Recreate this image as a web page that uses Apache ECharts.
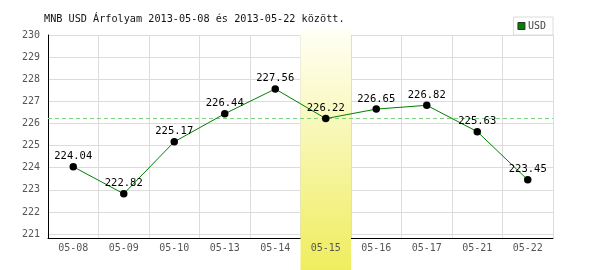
<!DOCTYPE html>
<html>
<head>
<meta charset="utf-8">
<script src="https://cdn.jsdelivr.net/npm/echarts@6/dist/echarts.min.js"></script>
<style>html,body{margin:0;padding:0;background:#fff}#c{width:600px;height:270px}</style>
</head>
<body>
<div id="c"></div>
<script>
const titleText = 'MNB USD Árfolyam 2013-05-08 és 2013-05-22 között.';
const seriesName = 'USD';
const categories = ['05-08','05-09','05-10','05-13','05-14','05-15','05-16','05-17','05-21','05-22'];
const values = [224.04, 222.82, 225.17, 226.44, 227.56, 226.22, 226.65, 226.82, 225.63, 223.45];
const highlightDay = '05-15';
const yMin = 220.82, yMax = 230;

const FONT = 'DejaVu Sans Mono';
const hiIndex = categories.indexOf(highlightDay);
const refValue = values[hiIndex];
const bandData = categories.map(c => c === highlightDay ? 1 : null);

const chart = echarts.init(document.getElementById('c'), null, {renderer: 'canvas'});
chart.setOption({
  animation: false,
  backgroundColor: '#fff',
  title: {
    text: titleText, left: 44, top: 14, padding: 0,
    textStyle: {fontFamily: FONT, fontSize: 10.2, fontWeight: 'normal', color: '#111'}
  },
  legend: {
    data: [{name: seriesName, icon: 'rect', itemStyle: {color: '#0a7a0a', borderColor: '#1d3d1d', borderWidth: 1}}],
    right: 47, top: 17, orient: 'vertical',
    padding: [4, 7, 4, 4], itemWidth: 7, itemHeight: 7,
    borderColor: '#dcdcdc', borderWidth: 1,
    textStyle: {fontFamily: FONT, fontSize: 10, color: '#444', padding: [0,0,0,-2]}
  },
  grid: [
    {left: 48, right: 47, top: 35, bottom: 32},
    {left: 48, right: 47, top: 29, bottom: 0}
  ],
  xAxis: [
    {type: 'category', data: categories, gridIndex: 0, position: 'bottom', boundaryGap: true, z: 0,
     axisLine: {show: true, lineStyle: {color: '#000', width: 1}},
     axisTick: {show: false}, axisLabel: {show: false},
     splitLine: {show: true, lineStyle: {color: '#dcdcdc', width: 1}}},
    {type: 'category', data: categories, gridIndex: 0, position: 'bottom', boundaryGap: true, z: 10,
     axisLine: {show: false}, axisTick: {show: false}, splitLine: {show: false},
     axisLabel: {show: true, margin: 5, fontFamily: FONT, fontSize: 10, color: '#555'}},
    {type: 'category', data: categories, gridIndex: 1, show: false, boundaryGap: true}
  ],
  yAxis: [
    {type: 'value', gridIndex: 0, min: yMin, max: yMax, minInterval: 1, maxInterval: 1, z: 0,
     axisLine: {show: true, lineStyle: {color: '#000', width: 1}},
     axisTick: {show: false},
     axisLabel: {margin: 8, fontFamily: FONT, fontSize: 10, color: '#555',
       formatter: v => (Math.abs(v - Math.round(v)) < 1e-6 ? String(Math.round(v)) : '')},
     splitLine: {show: true, lineStyle: {color: '#dcdcdc', width: 1}}},
    {type: 'value', gridIndex: 1, min: 0, max: 1, show: false}
  ],
  series: [
    {name: 'ref', type: 'line', xAxisIndex: 0, yAxisIndex: 0, data: [], z: 1, silent: true,
     markLine: {symbol: 'none', silent: true, label: {show: false},
       lineStyle: {color: '#7fd07f', type: [4, 3], width: 1},
       data: [{yAxis: refValue}]}},
    {name: 'band', type: 'bar', xAxisIndex: 2, yAxisIndex: 1, data: bandData, barWidth: '100%', z: 2, silent: true,
     itemStyle: {color: new echarts.graphic.LinearGradient(0, 0, 0, 1, [
       {offset: 0, color: '#fffff6'}, {offset: 1, color: '#efed5e'}])}},
    {name: seriesName, type: 'line', xAxisIndex: 0, yAxisIndex: 0, data: values, z: 5,
     symbol: 'circle', symbolSize: 7.5,
     lineStyle: {color: '#008000', width: 1},
     itemStyle: {color: '#000'},
     label: {show: true, position: 'top', distance: 1, fontFamily: FONT, fontSize: 10.5, color: '#000',
       formatter: p => p.value.toFixed(2)}}
  ]
});
</script>
</body>
</html>
